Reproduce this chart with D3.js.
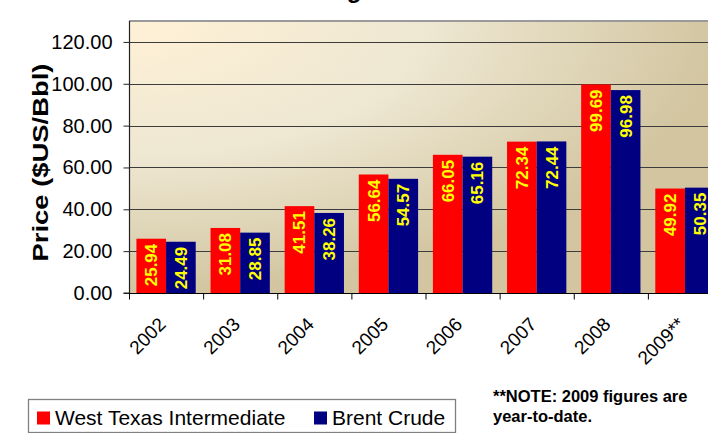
<!DOCTYPE html>
<html><head><meta charset="utf-8">
<script src="https://cdn.jsdelivr.net/npm/d3@7"></script>
<style>
html,body{margin:0;padding:0;background:#fff;overflow:hidden;}
svg{display:block;font-family:"Liberation Sans",Arial,Helvetica,sans-serif;}
</style></head>
<body>
<svg id="chart" width="708" height="433"></svg>
<script>
const years = ["2002","2003","2004","2005","2006","2007","2008","2009**"];
const seriesNames = ["West Texas Intermediate","Brent Crude"];
const wti = [25.94,31.08,41.51,56.64,66.05,72.34,99.69,49.92];
const brent = [24.49,28.85,38.26,54.57,65.16,72.44,96.98,50.35];
const yTicks = [0,20,40,60,80,100,120];
const titleText = "Average Crude Oil Prices";
const yTitle = "Price ($US/Bbl)";
const noteLines = ["**NOTE: 2009 figures are","year-to-date."];
const colors = ["#FF0000","#000080"];

const svg = d3.select("#chart");
const m = {left:129, top:21, right:722, bottom:293};

// gradient
const defs = svg.append("defs");
const g1 = defs.append("radialGradient").attr("id","bg")
  .attr("cx",0).attr("cy",0).attr("fx",0).attr("fy",0).attr("r",1);
g1.append("stop").attr("offset","0").attr("stop-color","#FFF1D6");
g1.append("stop").attr("offset","0.5").attr("stop-color","#EEE7D2");
g1.append("stop").attr("offset","1").attr("stop-color","#D2C5A0");

const x0 = d3.scaleBand().domain(years).range([m.left,m.right]).paddingInner(0).paddingOuter(0);
const x1 = d3.scaleBand().domain(seriesNames).range([0,x0.bandwidth()]).paddingInner(0).paddingOuter(0.25);
const y = d3.scaleLinear().domain([0,130]).range([m.bottom,m.top]);

// title (mostly off the top)
svg.append("text").attr("x",281).attr("y",-2.5).attr("font-size",24).attr("font-weight","bold")
  .attr("fill","#000").text(titleText);

// plot background
svg.append("rect").attr("x",m.left).attr("y",m.top).attr("width",m.right-m.left).attr("height",m.bottom-m.top)
  .attr("fill","url(#bg)");
// top border
svg.append("line").attr("x1",m.left).attr("x2",m.right).attr("y1",m.top).attr("y2",m.top)
  .attr("stroke","#9a9a9a").attr("stroke-width",2);

// gridlines
svg.append("g").selectAll("line").data(yTicks.filter(d=>d>0)).join("line")
  .attr("x1",m.left).attr("x2",m.right).attr("y1",d=>Math.round(y(d))+0.5).attr("y2",d=>Math.round(y(d))+0.5)
  .attr("stroke","#3c3c3c").attr("stroke-width",1.2);

// bars
const data = years.map((yr,i)=>({yr, vals:[wti[i],brent[i]]}));
const grp = svg.append("g").selectAll("g").data(data).join("g")
  .attr("transform",d=>`translate(${x0(d.yr)},0)`);
grp.selectAll("rect").data(d=>d.vals.map((v,j)=>({v,s:seriesNames[j],j}))).join("rect")
  .attr("x",d=>x1(d.s)).attr("width",x1.bandwidth())
  .attr("y",d=>y(d.v)).attr("height",d=>y(0)-y(d.v))
  .attr("fill",d=>colors[d.j]);
grp.selectAll("text").data(d=>d.vals.map((v,j)=>({v,s:seriesNames[j],j}))).join("text")
  .attr("transform",d=>`translate(${x1(d.s)+x1.bandwidth()/2+6},${y(d.v)+5}) rotate(-90)`)
  .attr("text-anchor","end").attr("font-size",17).attr("font-weight","bold")
  .attr("fill","#FFFF00").text(d=>d.v.toFixed(2));

// y axis
const yAxis = d3.axisLeft(y).tickValues(yTicks).tickSize(6).tickPadding(11).tickFormat(d=>d.toFixed(2));
const ya = svg.append("g").attr("transform",`translate(${m.left+0.5},0)`).call(yAxis);
ya.select(".domain").attr("stroke","#222").attr("stroke-width",1.2).attr("d",`M-6,${y(0)}H0V${m.top}`);
ya.selectAll(".tick line").attr("stroke","#222");
ya.selectAll(".tick text").attr("font-size",20).attr("fill","#000")
  .attr("font-family","'Liberation Sans',Arial,sans-serif");

// x axis
const xa = svg.append("g").attr("transform",`translate(0,${m.bottom+0.5})`);
xa.append("line").attr("x1",m.left).attr("x2",m.right).attr("stroke","#000").attr("stroke-width",1.2);
xa.selectAll("line.tk").data(years).join("line").attr("class","tk")
  .attr("x1",d=>x0(d)+0.5).attr("x2",d=>x0(d)+0.5).attr("y1",0).attr("y2",6).attr("stroke","#000");
xa.selectAll("text").data(years).join("text")
  .attr("transform",d=>`translate(${x0(d)+x0.bandwidth()/2+1},${32}) rotate(-45)`)
  .attr("text-anchor","end").attr("font-size",19).attr("fill","#000").text(d=>d);

// y title
svg.append("text").attr("transform","translate(48,162.5) rotate(-90)")
  .attr("text-anchor","middle").attr("font-size",22).attr("font-weight","bold")
  .attr("textLength",198).attr("lengthAdjust","spacingAndGlyphs").text(yTitle);

// legend
const lg = svg.append("g");
lg.append("rect").attr("x",28.5).attr("y",399.5).attr("width",427).attr("height",33)
  .attr("fill","#fff").attr("stroke","#808080").attr("stroke-width",1.3);
const legX = [37,314];
const li = lg.selectAll("g").data(seriesNames).join("g")
  .attr("transform",(d,i)=>`translate(${legX[i]},0)`);
li.append("rect").attr("x",0).attr("y",411.5).attr("width",13).attr("height",13).attr("fill",(d,i)=>colors[i]);
li.append("text").attr("x",18).attr("y",425).attr("font-size",21).attr("fill","#000").text(d=>d);

// note
svg.append("g").selectAll("text").data(noteLines).join("text")
  .attr("x",493).attr("y",(d,i)=>402+i*20).attr("font-size",16.5).attr("font-weight","bold")
  .attr("fill","#000").text(d=>d);
</script>
</body></html>
